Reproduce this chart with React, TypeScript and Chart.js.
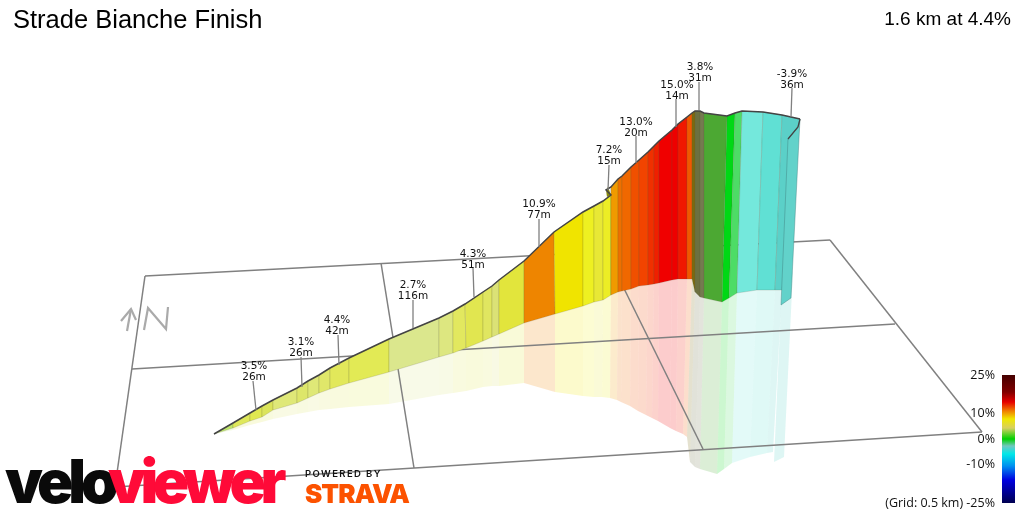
// @ts-nocheck
import {useEffect, useRef} from "react";
import {Chart, LineController, registerables} from "chart.js";

const topX = [214, 233, 250, 262, 273, 297, 308, 319, 330, 349, 389, 439, 453, 465, 483, 492, 499, 524, 554, 583, 594, 603, 611, 611, 618, 622, 631, 639, 648, 654, 659, 672, 678, 687, 692, 695, 700, 704, 727, 735, 742, 763, 782, 800];
const topY = [434, 423, 413, 406, 400, 388, 381, 375, 368, 358, 339, 318, 311, 304, 292, 286, 280, 261, 232, 212, 206, 201, 195, 187, 179, 176, 167, 160, 152, 146, 141, 130, 124, 117, 113, 111, 111, 113, 116, 113, 111, 112, 115, 119];
const baseX = [214, 233, 250, 262, 273, 297, 308, 319, 330, 349, 389, 439, 453, 466, 483, 492, 499, 524, 555, 583, 594, 603, 611, 611, 618, 622, 631, 639, 648, 654, 659, 672, 678, 687, 692, 695, 700, 704, 722, 729, 737, 757, 775, 782];
const baseY = [434, 428, 421, 417, 410, 403, 398, 393, 389, 383, 372, 357, 353, 348, 341, 337, 334, 323, 314, 306, 302, 300, 295, 295, 292, 291, 289, 286, 285, 284, 283, 280, 279, 279, 279, 292, 297, 298, 302, 298, 293, 290, 290, 290];
const shadowX = [214, 233, 250, 262, 273, 297, 308, 319, 330, 349, 389, 439, 453, 466, 483, 492, 499, 524, 555, 583, 594, 602, 610, 610, 617, 621, 630, 638, 646, 652, 658, 670, 676, 683, 687, 690, 695, 700, 717, 724, 732, 750, 767, 773];
const shadowY = [434, 430, 425, 422, 419, 414, 412, 410, 409, 407, 404, 395, 393, 391, 387, 386, 386, 383, 392, 396, 397, 397, 398, 398, 400, 402, 406, 411, 415, 418, 421, 428, 431, 434, 437, 462, 467, 469, 474, 469, 463, 457, 453, 452];
const segmentColors = ["#bfe66a", "#dfe85a", "#e0e850", "#dbe45a", "#dfe878", "#dde66a", "#dfe877", "#e0e76a", "#e2e85a", "#e2ea55", "#dbe78d", "#dde780", "#e2e85f", "#e1e650", "#e0e660", "#dbe276", "#e2e53c", "#ee8500", "#f0e400", "#eef021", "#e8e835", "#eced25", "#f09a00", "#f09a00", "#ed7000", "#f06800", "#f05000", "#f24400", "#f03000", "#ef2000", "#f00000", "#ee0000", "#f01800", "#f05800", "#7a6a10", "#6b7040", "#757a50", "#4ca833", "#00d815", "#4ddc66", "#74e8dc", "#60e0d4", "#5bd0c8"];

const foldX = [606, 608, 611, 607];
const foldY = [190, 187, 195, 197];
const flapX = [800, 798, 788, 781, 791];
const flapY = [119, 127, 139, 305, 298];
const flapShadowX = [793, 784, 774, 781];
const flapShadowY = [270, 457, 462, 305];

const gradeLabels = ["3.5%", "3.1%", "4.4%", "2.7%", "4.3%", "10.9%", "7.2%", "13.0%", "15.0%", "3.8%", "-3.9%"];
const lengthLabels = ["26m", "26m", "42m", "116m", "51m", "77m", "15m", "20m", "14m", "31m", "36m"];
const labelX = [254, 301, 337, 413, 473, 539, 609, 636, 677, 700, 792];
const gradeY = [365, 341, 319, 284, 253, 203, 149, 121, 84, 66, 73];
const leaderTopX = [253, 301, 338, 413, 473, 539, 609, 636, 676, 699, 792];
const leaderTopY = [381, 357, 335, 300, 268, 219, 165, 136, 99, 82, 88];
const leaderEndX = [256, 302, 339, 413, 474, 539, 608, 636, 676, 699, 791];
const leaderEndY = [410, 387, 365, 328, 297, 247, 190, 163, 127, 110, 117];

const gridX = [[145, 830], [132, 895], [115, 982], [145, 115], [381, 414], [606, 703], [830, 982]];
const gridY = [[276, 240], [369, 324], [487, 432], [276, 487], [263, 468], [252, 449], [240, 432]];

const northX = [[127, 131], [121, 131, 136], [144, 148, 166, 168]];
const northY = [[331, 309], [321, 309, 320], [330, 308, 329, 307]];

const scaleTicks = ["25%", "10%", "0%", "-10%", "(Grid: 0.5 km) -25%"];
const scaleTickY = [375, 413, 439, 464, 503];
const scaleColors = ["#440000", "#800000", "#e60000", "#f08000", "#f0e800", "#d8d060", "#00d000", "#70c8c0", "#00e8e8", "#0090f0", "#0000e0", "#000050"];
const scaleStops = [375, 392, 402, 411, 419, 428, 439, 446, 454, 466, 480, 503];
const scaleBarX = [1002, 1015, 1015, 1002];
const scaleBarY = [375, 375, 503, 503];

Chart.register(...registerables);

// closed filled shape: the stock line controller places the points, this only joins them up
class PolygonController extends LineController {
    static id = "polygon";
    static defaults = {...LineController.defaults};

    draw() {
        const {ctx} = this.chart;
        const points = this.getMeta().data;
        const ds = this.getDataset();
        ctx.save();
        ctx.beginPath();
        points.forEach((p, i) => (i ? ctx.lineTo(p.x, p.y) : ctx.moveTo(p.x, p.y)));
        ctx.closePath();
        if (ds.colorStops) {
            const yScale = this.chart.scales.y;
            const first = ds.colorStops[0].at;
            const last = ds.colorStops[ds.colorStops.length - 1].at;
            const g = ctx.createLinearGradient(0, yScale.getPixelForValue(first), 0, yScale.getPixelForValue(last));
            ds.colorStops.forEach((s) => g.addColorStop((s.at - first) / (last - first), s.color));
            ctx.fillStyle = g;
        } else {
            ctx.fillStyle = ds.backgroundColor;
        }
        ctx.fill();
        if (ds.borderWidth) {
            ctx.strokeStyle = ds.borderColor;
            ctx.lineWidth = ds.borderWidth;
            ctx.stroke();
        }
        ctx.restore();
    }
}
Chart.register(PolygonController);

const pts = (xs, ys) => xs.map((x, i) => ({x, y: ys[i]}));
const polygon = (data, backgroundColor, extra = {}) => ({type: "polygon", data, backgroundColor, pointRadius: 0, borderWidth: 0, ...extra});
const polyline = (data, borderColor, borderWidth) => ({type: "scatter", showLine: true, data, borderColor, borderWidth, pointRadius: 0, fill: false});

function buildDatasets() {
    const layers = [];
    // faint reflection under the wall
    segmentColors.forEach((c, i) => {
        layers.push(polygon([
            {x: baseX[i], y: baseY[i]}, {x: baseX[i + 1], y: baseY[i + 1]},
            {x: shadowX[i + 1], y: shadowY[i + 1]}, {x: shadowX[i], y: shadowY[i]},
        ], c + "33"));
    });
    layers.push(polygon(pts(flapShadowX, flapShadowY), "#5bd0c833"));
    gridX.forEach((xs, i) => layers.push(polyline(pts(xs, gridY[i]), "#808080", 1.5)));
    northX.forEach((xs, i) => layers.push(polyline(pts(xs, northY[i]), "#aaaaaa", 2.2)));
    // the wall itself
    segmentColors.forEach((c, i) => {
        layers.push(polygon([
            {x: topX[i], y: topY[i]}, {x: topX[i + 1], y: topY[i + 1]},
            {x: baseX[i + 1], y: baseY[i + 1]}, {x: baseX[i], y: baseY[i]},
        ], c, {borderColor: "rgba(90,90,60,0.18)", borderWidth: 1}));
    });
    layers.push(polygon(pts(foldX, foldY), "#8a8a10"));
    layers.push(polygon(pts(flapX, flapY), "#62d2ca", {borderColor: "rgba(60,120,120,0.4)", borderWidth: 1}));
    const outline = pts(topX, topY);
    outline.splice(23, 0, {x: foldX[0], y: foldY[0]});
    layers.push(polyline(outline, "#444444", 1.5));
    layers.push(polyline(pts(flapX.slice(0, 3), flapY.slice(0, 3)), "#444444", 1.3));
    leaderTopX.forEach((x, i) => {
        layers.push(polyline([{x, y: leaderTopY[i]}, {x: leaderEndX[i], y: leaderEndY[i]}], "#808080", 1.3));
    });
    layers.push(polygon(pts(scaleBarX, scaleBarY), "#000", {
        colorStops: scaleStops.map((at, i) => ({at, color: scaleColors[i]})),
    }));
    // first dataset is painted last
    return layers.reverse();
}

const textLayer = {
    id: "textLayer",
    afterDatasetsDraw(chart) {
        const {ctx, scales: {x, y}} = chart;
        const put = (s, px, py, font, color, align = "left", spacing = "0px") => {
            ctx.font = font;
            ctx.fillStyle = color;
            ctx.textAlign = align;
            ctx.letterSpacing = spacing;
            ctx.fillText(s, x.getPixelForValue(px), y.getPixelForValue(py));
        };
        ctx.save();
        ctx.textBaseline = "alphabetic";
        put("Strade Bianche Finish", 13, 28, "25.5px 'Liberation Sans'", "#000");
        put("1.6 km at 4.4%", 1011, 25, "19px 'Liberation Sans'", "#000", "right");
        gradeLabels.forEach((s, i) => {
            put(s, labelX[i], gradeY[i] + 4, "10.5px 'DejaVu Sans'", "#111", "center");
            put(lengthLabels[i], labelX[i], gradeY[i] + 15, "10.5px 'DejaVu Sans'", "#111", "center");
        });
        scaleTicks.forEach((s, i) => {
            put(s, 995, scaleTickY[i] + 4, "12.5px 'Open Sans'", "#111", "right");
        });
        put("velo", 5, 503, "900 60px Inter", "#0a0a0a", "left", "-5px");
        put("viewer", 108, 503, "900 60px Inter", "#ff0a38", "left", "-5.5px");
        put("POWERED BY", 305, 477, "600 9.5px Inter", "#111", "left", "1.4px");
        put("STRAVA", 305, 503, "900 26px Inter", "#fc5200", "left", "-1px");
        ctx.restore();
    },
};

export default function App() {
    const chartRef = useRef(null);
    useEffect(() => {
        document.body.style.margin = "0";
        const chart = new Chart(chartRef.current.getContext("2d"), {
            type: "scatter",
            data: {datasets: buildDatasets()},
            options: {
                animation: false,
                responsive: false,
                devicePixelRatio: 1,
                layout: {padding: 0},
                scales: {
                    x: {type: "linear", min: 0, max: 1024, display: false},
                    y: {type: "linear", min: 0, max: 512, reverse: true, display: false},
                },
                plugins: {legend: {display: false}, tooltip: {enabled: false}},
            },
            plugins: [textLayer],
        });
        return () => {
            chart.destroy();
        };
    }, []);

    return <canvas ref={chartRef} width={1024} height={512} style={{display: "block"}}/>;
}
